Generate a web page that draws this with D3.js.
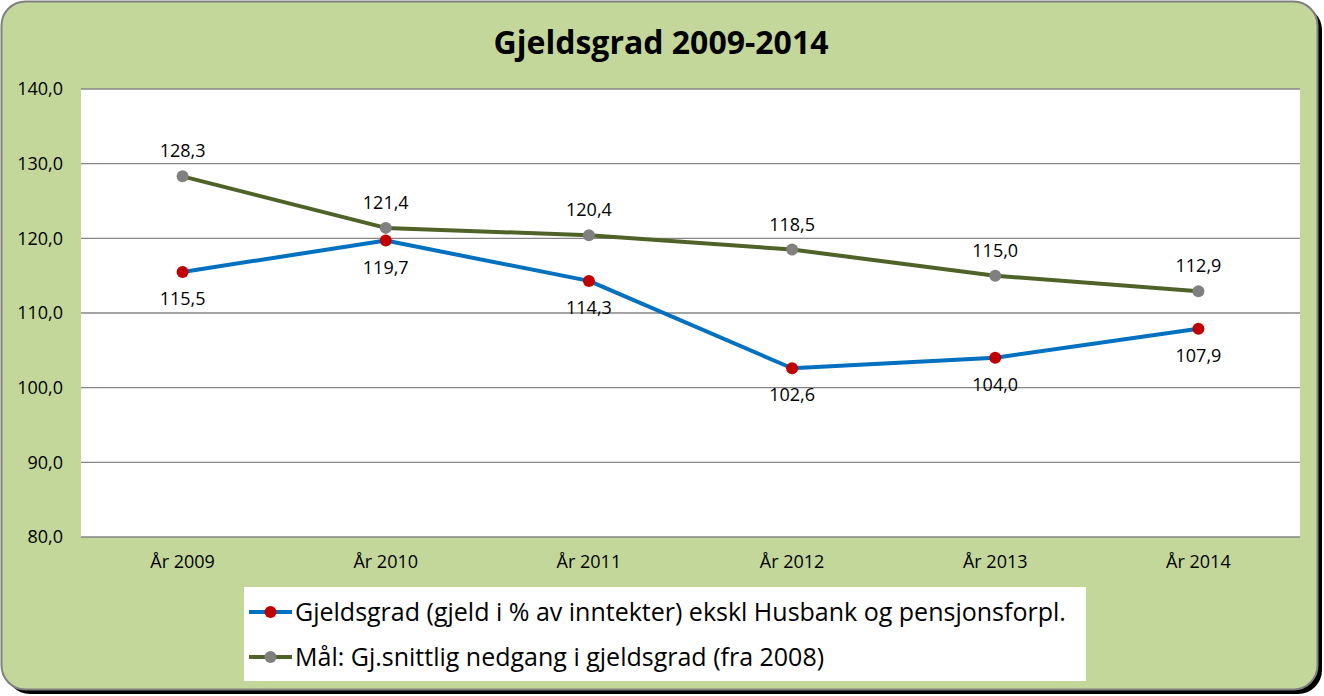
<!DOCTYPE html>
<html>
<head>
<meta charset="utf-8">
<script src="https://cdn.jsdelivr.net/npm/d3@7"></script>
<style>
  body { margin: 0; background: #fff; }
  svg { display: block; font-family: "Open Sans", sans-serif; }
</style>
</head>
<body>
<div id="chart"></div>
<script>
// Data
var years = ["År 2009", "År 2010", "År 2011", "År 2012", "År 2013", "År 2014"];
var gjeldsgrad = [115.5, 119.7, 114.3, 102.6, 104.0, 107.9];
var maal = [128.3, 121.4, 120.4, 118.5, 115.0, 112.9];
var yTicks = [80, 90, 100, 110, 120, 130, 140];
var seriesNames = [
  "Gjeldsgrad (gjeld i % av inntekter) ekskl Husbank og pensjonsforpl.",
  "Mål: Gj.snittlig nedgang i gjeldsgrad (fra 2008)"
];

var svgWidth = 1324;
var svgHeight = 696;

var margin = { top: 89, right: 24, bottom: 159, left: 81 };
var width = 1300 - margin.left;
var height = 537 - margin.top;

var svg = d3.select("#chart")
  .append("svg")
  .attr("width", svgWidth)
  .attr("height", svgHeight);

// shadow + frame
svg.append("rect")
  .attr("x", 6).attr("y", 6)
  .attr("width", 1316).attr("height", 688)
  .attr("rx", 24)
  .attr("fill", "#000");

svg.append("rect")
  .attr("x", 1.5).attr("y", 1.5)
  .attr("width", 1316).attr("height", 688)
  .attr("rx", 24)
  .attr("fill", "#c4d79b")
  .attr("stroke", "#808080")
  .attr("stroke-width", 2);

svg.append("text")
  .attr("x", 661)
  .attr("y", 54)
  .attr("text-anchor", "middle")
  .attr("font-size", 32)
  .attr("font-weight", "bold")
  .attr("fill", "#000")
  .text("Gjeldsgrad 2009-2014");

var chartGroup = svg.append("g")
  .attr("transform", `translate(${margin.left}, ${margin.top})`);

chartGroup.append("rect")
  .attr("width", width)
  .attr("height", height)
  .attr("fill", "#fff");

var xScale = d3.scaleBand()
  .domain(years)
  .range([0, width]);

var yScale = d3.scaleLinear()
  .domain([80, 140])
  .range([height, 0]);

// gridlines
chartGroup.selectAll(".grid")
  .data(yTicks)
  .enter()
  .append("line")
  .attr("x1", 0)
  .attr("x2", width)
  .attr("y1", d => yScale(d))
  .attr("y2", d => yScale(d))
  .attr("stroke", "#868686")
  .attr("stroke-width", 1.3);

// y axis
var leftAxis = d3.axisLeft(yScale)
  .tickValues(yTicks)
  .tickSize(0)
  .tickPadding(18)
  .tickFormat(d => d3.format(".1f")(d).replace(".", ","));

var yAxisG = chartGroup.append("g").call(leftAxis);
yAxisG.select(".domain").remove();
yAxisG.selectAll("text")
  .attr("font-size", 18)
  .attr("font-family", "'Open Sans', sans-serif")
  .attr("fill", "#000");

// x axis
var bottomAxis = d3.axisBottom(xScale).tickSize(0).tickPadding(18);
var xAxisG = chartGroup.append("g")
  .attr("transform", `translate(0, ${height})`)
  .call(bottomAxis);
xAxisG.select(".domain").remove();
xAxisG.selectAll("text")
  .attr("font-size", 18)
  .attr("font-family", "'Open Sans', sans-serif")
  .attr("fill", "#000");

var cx = d => xScale(d) + xScale.bandwidth() / 2;
var fmt = v => d3.format(".1f")(v).replace(".", ",");

var series = [
  { values: gjeldsgrad, line: "#0070c0", marker: "#c00000", dy: 33 },
  { values: maal, line: "#4f6228", marker: "#808080", dy: -19 }
];

var lineGen = d3.line()
  .x((d, i) => cx(years[i]))
  .y(d => yScale(d));

series.forEach(function(s) {
  chartGroup.append("path")
    .datum(s.values)
    .attr("d", lineGen)
    .attr("fill", "none")
    .attr("stroke", s.line)
    .attr("stroke-width", 4)
    .attr("stroke-linejoin", "round");
});

series.forEach(function(s) {
  chartGroup.selectAll(null)
    .data(s.values)
    .enter()
    .append("circle")
    .attr("cx", (d, i) => cx(years[i]))
    .attr("cy", d => yScale(d))
    .attr("r", 6)
    .attr("fill", s.marker);

  chartGroup.selectAll(null)
    .data(s.values)
    .enter()
    .append("text")
    .attr("x", (d, i) => cx(years[i]))
    .attr("y", d => yScale(d) + s.dy)
    .attr("text-anchor", "middle")
    .attr("font-size", 18)
    .attr("fill", "#000")
    .text(d => fmt(d));
});

// legend
var legend = svg.append("g").attr("transform", "translate(244, 587)");
legend.append("rect")
  .attr("width", 842)
  .attr("height", 94)
  .attr("fill", "#fff");

seriesNames.forEach(function(name, i) {
  var y = 25 + i * 45;
  var g = legend.append("g").attr("transform", `translate(0, ${y})`);
  g.append("line")
    .attr("x1", 5).attr("x2", 48)
    .attr("stroke", series[i].line)
    .attr("stroke-width", 4);
  g.append("circle")
    .attr("cx", 26.5)
    .attr("r", 6)
    .attr("fill", series[i].marker);
  g.append("text")
    .attr("x", 51)
    .attr("y", 9)
    .attr("font-size", 25)
    .attr("fill", "#000")
    .text(name);
});
</script>
</body>
</html>
